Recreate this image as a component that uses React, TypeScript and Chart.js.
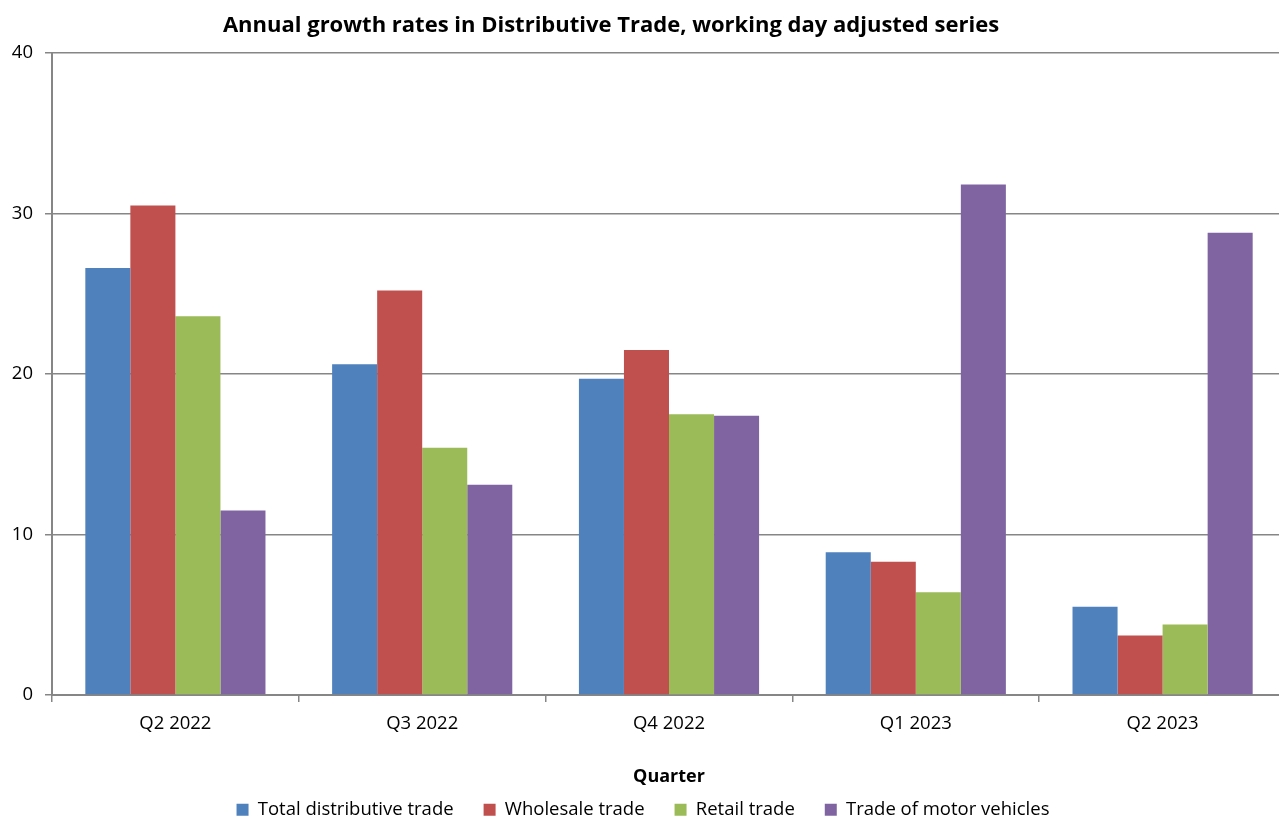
import React, { useEffect, useRef } from "react";
import { Chart, registerables } from "chart.js";

Chart.register(...registerables);

const categories = ["Q2 2022", "Q3 2022", "Q4 2022", "Q1 2023", "Q2 2023"];
const totalDistributive = [26.6, 20.6, 19.7, 8.9, 5.5];
const wholesale = [30.5, 25.2, 21.5, 8.3, 3.7];
const retail = [23.6, 15.4, 17.5, 6.4, 4.4];
const motorVehicles = [11.5, 13.1, 17.4, 31.8, 28.8];
const seriesNames = ["Total distributive trade", "Wholesale trade", "Retail trade", "Trade of motor vehicles"];
const yTicks = [0, 10, 20, 30, 40];
const titleText = "Annual growth rates in Distributive Trade, working day adjusted series";
const xTitle = "Quarter";

const FONT = "'Open Sans', sans-serif";
const W = 1286;
const H = 829;

export default function App() {
  const ref = useRef<HTMLCanvasElement | null>(null);

  useEffect(() => {
    document.body.style.margin = "0";
    document.body.style.overflow = "hidden";
    const ctx = ref.current!.getContext("2d")!;
    const titlePlugin = {
      id: "customTitle",
      afterDraw(chart: any) {
        const c = chart.ctx;
        c.save();
        c.font = `bold 22px ${FONT}`;
        c.fillStyle = "#000";
        c.textAlign = "center";
        c.textBaseline = "middle";
        c.fillText(titleText, 611, 26);
        c.restore();
      },
    };
    const colors = ["#4F81BD", "#C0504D", "#9BBB59", "#8064A2"];
    const data = [totalDistributive, wholesale, retail, motorVehicles];
    const chart = new Chart(ctx, {
      type: "bar",
      data: {
        labels: categories,
        datasets: seriesNames.map((n, i) => ({
          label: n,
          data: data[i],
          backgroundColor: colors[i],
          borderWidth: 0,
          categoryPercentage: 0.73,
          barPercentage: 1,
        })),
      },
      options: {
        responsive: false,
        animation: false,
        layout: { padding: { top: 53, left: 0, right: 0, bottom: 0 } },
        plugins: {
          title: { display: false },
          tooltip: { enabled: false },
          legend: {
            position: "bottom",
            labels: {
              font: { family: FONT, size: 18.5 },
              color: "#000",
              boxWidth: 12,
              boxHeight: 12,
              padding: 30,
            },
          },
        },
        scales: {
          x: {
            offset: true,
            grid: {
              offset: true,
              drawOnChartArea: false,
              color: "#868686",
              lineWidth: 1.5,
              tickLength: 7,
            },
            border: { color: "#868686", width: 2 },
            ticks: { font: { family: FONT, size: 18.5 }, color: "#000", padding: 11 },
            title: {
              display: true,
              text: xTitle,
              font: { family: FONT, size: 18, weight: "bold" },
              color: "#000",
              padding: { top: 0, bottom: -17.5 },
            },
            afterFit: (s: any) => {
              s.height = 75.5;
            },
          },
          y: {
            min: 0,
            max: 40,
            afterBuildTicks: (s: any) => {
              s.ticks = yTicks.map((v) => ({ value: v }));
            },
            grid: { color: "#868686", lineWidth: 1.5, tickLength: 7 },
            border: { color: "#868686", width: 2 },
            ticks: { font: { family: FONT, size: 18.5 }, color: "#000", padding: 12 },
            afterFit: (s: any) => {
              s.width = 52;
            },
          },
        },
      },
      plugins: [titlePlugin],
    });
    return () => chart.destroy();
  }, []);

  return (
    <div style={{ position: "absolute", left: 0, top: 0, width: W, height: H }}>
      <canvas ref={ref} width={W} height={H} style={{ width: W, height: H }} />
    </div>
  );
}
